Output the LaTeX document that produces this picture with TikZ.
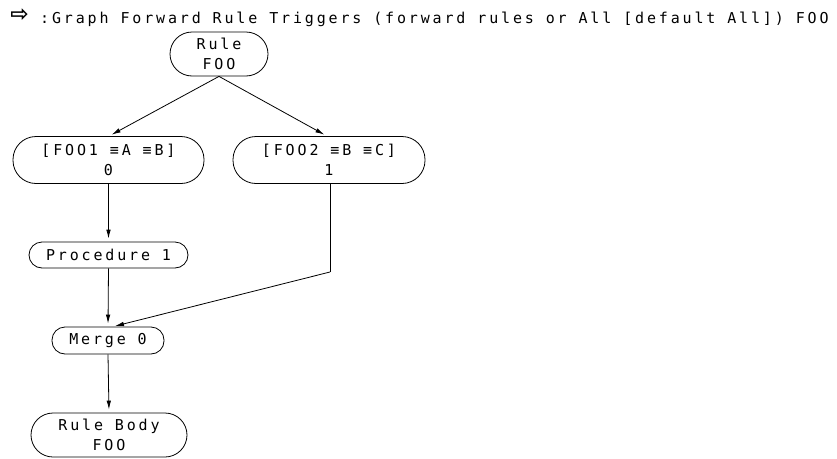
\documentclass[tikz,border=0pt]{standalone}
\usepackage{fontspec}
\usetikzlibrary{arrows.meta}
\newfontfamily\lispfont[LetterSpace=19]{DejaVu Sans Mono}
\newfontfamily\iconfont{DejaVu Sans}
\begin{document}
\begin{tikzpicture}[x=1pt,y=-1pt,
  every node/.style={inner sep=0pt},
  txt/.style={font=\lispfont\fontsize{15}{20}\selectfont},
  pill/.style={draw,line width=0.8pt,rounded corners=#1,align=center,
    font=\lispfont\fontsize{15}{20}\selectfont},
  arr/.style={line width=0.8pt,-{Latex[length=9pt,width=4.5pt]},shorten >=3pt},
  ln/.style={line width=0.8pt}]
\useasboundingbox (0,0) rectangle (837,458);
\node[font=\iconfont\bfseries\fontsize{22}{22}\selectfont,anchor=center] (icon) at (19.5,15) {⇨};
\node[txt,anchor=base west] (title) at (40,23) {:Graph Forward Rule Triggers (forward rules or All [default All]) FOO};
\node[pill=22pt,minimum width=98pt,minimum height=44pt] (rule) at (219,54) {Rule\\FOO};
\node[pill=23pt,minimum width=191pt,minimum height=47pt] (f1) at (108.5,160) {[FOO1 ≡A ≡B]\\0};
\node[pill=23pt,minimum width=192pt,minimum height=47pt] (f2) at (329,160) {[FOO2 ≡B ≡C]\\1};
\node[pill=13pt,minimum width=159pt,minimum height=26pt] (proc) at (108.5,255) {Procedure 1};
\node[pill=13pt,minimum width=112pt,minimum height=27pt] (merge) at (108,340.5) {Merge 0};
\node[pill=22pt,minimum width=156pt,minimum height=44pt] (body) at (109,435) {Rule Body\\FOO};
\coordinate (bend) at (330,272);
\draw[arr] (rule.south) -- ([xshift=0.5pt]f1.north);
\draw[arr] (rule.south) -- ([xshift=-2pt]f2.north);
\draw[arr] (f1.south) -- (proc.north);
\draw[arr] (proc.south) -- (merge.north);
\draw[ln] ([xshift=1pt]f2.south) -- (bend);
\draw[arr,shorten >=2pt] (bend) -- ([xshift=5pt]merge.north);
\draw[arr] (merge.south) -- (body.north);
\end{tikzpicture}
\end{document}
